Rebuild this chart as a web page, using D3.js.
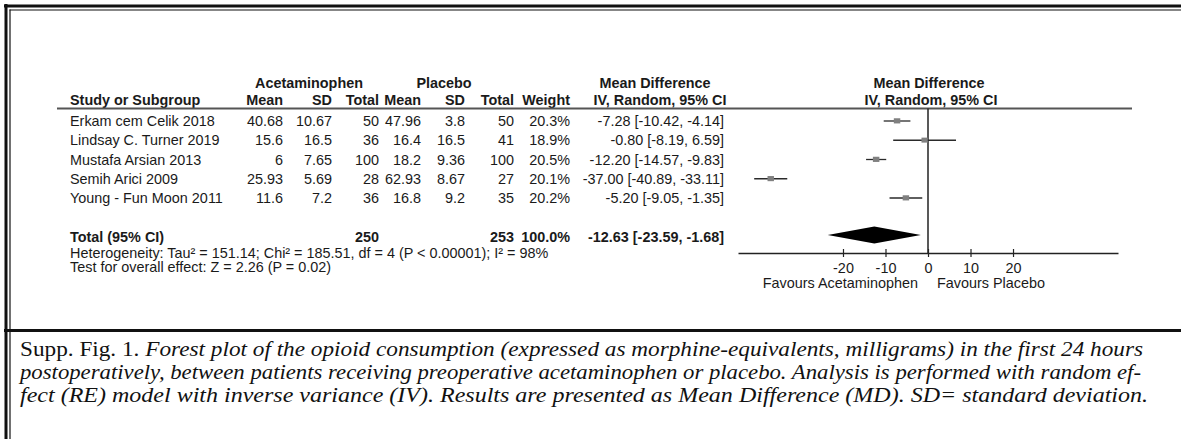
<!DOCTYPE html>
<html><head><meta charset="utf-8">
<script src="https://cdn.jsdelivr.net/npm/d3@7"></script>
<style>body{margin:0;background:#fff} svg{display:block}</style>
</head><body><svg id="c" width="1181" height="439"></svg>
<script>
// ---------- data ----------
const studies = ["Erkam cem Celik 2018", "Lindsay C. Turner 2019", "Mustafa Arsian 2013", "Semih Arici 2009", "Young - Fun Moon 2011"];
const acetMean = [40.68, 15.6, 6, 25.93, 11.6];
const acetSD = [10.67, 16.5, 7.65, 5.69, 7.2];
const acetTotal = [50, 36, 100, 28, 36];
const placMean = [47.96, 16.4, 18.2, 62.93, 16.8];
const placSD = [3.8, 16.5, 9.36, 8.67, 9.2];
const placTotal = [50, 41, 100, 27, 35];
const weights = [20.3, 18.9, 20.5, 20.1, 20.2];
const mdValue = [-7.28, -0.80, -12.20, -37.00, -5.20];
const mdLower = [-10.42, -8.19, -14.57, -40.89, -9.05];
const mdUpper = [-4.14, 6.59, -9.83, -33.11, -1.35];
const totalLabel = "Total (95% CI)";
const totalAcet = 250, totalPlac = 253, totalWeight = 100.0;
const totalMD = -12.63, totalLower = -23.59, totalUpper = -1.68;
const heterogeneity = "Heterogeneity: Tau² = 151.14; Chi² = 185.51, df = 4 (P < 0.00001); I² = 98%";
const overallTest = "Test for overall effect: Z = 2.26 (P = 0.02)";
const axisTicks = [-20, -10, 0, 10, 20];
const axisExtent = [-44.7, 44.7];
const favourLeft = "Favours Acetaminophen", favourRight = "Favours Placebo";
const captionLines = [
  [["Supp. Fig. 1. ", false], ["Forest plot of the opioid consumption (expressed as morphine-equivalents, milligrams) in the first 24 hours", true]],
  [["postoperatively, between patients receiving preoperative acetaminophen or placebo. Analysis is performed with random ef-", true]],
  [["fect (RE) model with inverse variance (IV). Results are presented as Mean Difference (MD). SD= standard deviation.", true]]
];

// ---------- layout ----------
const svg = d3.select("#c");
const SANS = "'Liberation Sans', Arial, Helvetica, sans-serif";
const SERIF = "'Liberation Serif', 'Times New Roman', serif";
const INK = "#1a1a1a";
const FS = 14.4;
svg.append("rect").attr("width", 1181).attr("height", 439).attr("fill", "#fff");

// frame
const fr = svg.append("g").attr("stroke", "#111").attr("fill", "none");
fr.append("line").attr("x1", 4).attr("x2", 1181).attr("y1", 6).attr("y2", 6).attr("stroke-width", 3);
fr.append("line").attr("x1", 6).attr("x2", 6).attr("y1", 4).attr("y2", 439).attr("stroke-width", 3);
fr.append("line").attr("x1", 9.5).attr("x2", 1181).attr("y1", 10).attr("y2", 10).attr("stroke-width", 1.2);
fr.append("line").attr("x1", 10).attr("x2", 10).attr("y1", 9.5).attr("y2", 329).attr("stroke-width", 1.2);
fr.append("line").attr("x1", 4).attr("x2", 1181).attr("y1", 330.5).attr("y2", 330.5).attr("stroke-width", 3);
fr.append("line").attr("x1", 10).attr("x2", 10).attr("y1", 332).attr("y2", 439).attr("stroke-width", 1.2);

const rowY = d3.scaleLinear().domain([0, 1]).range([121, 140.25]);
const x = d3.scaleLinear().domain(axisExtent).range([738, 1118]);
const axisY = 253;
const headY1 = 88, headY2 = 105, ruleY = 108.5;
const base = 5;

const cols = {
  study: 70, aMean: 283, aSD: 332, aTot: 379, pMean: 421, pSD: 465, pTot: 514, weight: 570, md: 724
};

function txt(g, s, xx, yy, anchor, bold, size) {
  return g.append("text").attr("x", xx).attr("y", yy).attr("text-anchor", anchor || "start")
    .style("font-family", SANS).style("font-size", (size || FS) + "px")
    .style("font-weight", bold ? "bold" : "normal").attr("fill", INK).text(s);
}

const T = svg.append("g");
// header
txt(T, "Acetaminophen", 309, headY1, "middle", true);
txt(T, "Placebo", 444, headY1, "middle", true);
txt(T, "Mean Difference", 655, headY1, "middle", true);
txt(T, "Mean Difference", 929, headY1, "middle", true);
txt(T, "Study or Subgroup", cols.study, headY2, "start", true);
txt(T, "Mean", cols.aMean, headY2, "end", true);
txt(T, "SD", cols.aSD, headY2, "end", true);
txt(T, "Total", cols.aTot, headY2, "end", true);
txt(T, "Mean", cols.pMean, headY2, "end", true);
txt(T, "SD", cols.pSD, headY2, "end", true);
txt(T, "Total", cols.pTot, headY2, "end", true);
txt(T, "Weight", cols.weight, headY2, "end", true);
txt(T, "IV, Random, 95% CI", 660, headY2, "middle", true);
txt(T, "IV, Random, 95% CI", 931, headY2, "middle", true);
T.append("line").attr("x1", 57).attr("x2", 1132).attr("y1", ruleY).attr("y2", ruleY)
  .attr("stroke", "#555").attr("stroke-width", 2);

// rows
studies.forEach((s, i) => {
  const yy = rowY(i) + base;
  txt(T, s, cols.study, yy, "start");
  txt(T, acetMean[i], cols.aMean, yy, "end");
  txt(T, acetSD[i], cols.aSD, yy, "end");
  txt(T, acetTotal[i], cols.aTot, yy, "end");
  txt(T, placMean[i], cols.pMean, yy, "end");
  txt(T, placSD[i], cols.pSD, yy, "end");
  txt(T, placTotal[i], cols.pTot, yy, "end");
  txt(T, weights[i].toFixed(1) + "%", cols.weight, yy, "end");
  txt(T, `${mdValue[i].toFixed(2)} [${mdLower[i].toFixed(2)}, ${mdUpper[i].toFixed(2)}]`, cols.md, yy, "end");
});
const ty = rowY(6) + base;
txt(T, totalLabel, cols.study, ty, "start", true);
txt(T, totalAcet, cols.aTot, ty, "end", true);
txt(T, totalPlac, cols.pTot, ty, "end", true);
txt(T, totalWeight.toFixed(1) + "%", cols.weight, ty, "end", true);
txt(T, `${totalMD.toFixed(2)} [${totalLower.toFixed(2)}, ${totalUpper.toFixed(2)}]`, cols.md, ty, "end", true);
txt(T, heterogeneity, cols.study, 258, "start");
txt(T, overallTest, cols.study, 272, "start");

// forest plot
const F = svg.append("g");
F.append("line").attr("x1", x(0)).attr("x2", x(0)).attr("y1", ruleY).attr("y2", axisY)
  .attr("stroke", "#222").attr("stroke-width", 1.5);
const sq = d3.scaleSqrt().domain([0, 20.5]).range([0, 6.5]);
studies.forEach((s, i) => {
  const yy = rowY(i);
  F.append("line").attr("x1", x(mdLower[i])).attr("x2", x(mdUpper[i])).attr("y1", yy).attr("y2", yy)
    .attr("stroke", "#2a2a2a").attr("stroke-width", 1.3);
  const w = sq(weights[i]);
  F.append("rect").attr("x", x(mdValue[i]) - w / 2).attr("y", yy - w / 2 + 0.5).attr("width", w).attr("height", w * 0.8)
    .attr("fill", "#808080");
});
const dy = rowY(6) - 1.5;
F.append("path").attr("d", `M${x(totalLower)},${dy}L${x(totalMD)},${dy - 8.5}L${x(totalUpper)},${dy}L${x(totalMD)},${dy + 8.5}Z`)
  .attr("fill", "#000");

const ag = svg.append("g").attr("transform", `translate(0,${axisY})`)
  .call(d3.axisBottom(x).tickValues(axisTicks).tickFormat(d => String(d)).tickSizeOuter(0).tickSizeInner(4));
ag.select(".domain").attr("stroke", "#222").attr("stroke-width", 1.5);
ag.selectAll(".tick line").attr("y1", -4).attr("y2", 4).attr("stroke", "#222").attr("stroke-width", 1.2);
ag.selectAll(".tick text").attr("y", 20).attr("dy", null).attr("fill", INK)
  .style("font-family", SANS).style("font-size", FS + "px");
ag.attr("font-family", null).attr("font-size", null);
txt(svg, favourLeft, x(0) - 10, axisY + 35, "end");
txt(svg, favourRight, x(0) + 9, axisY + 35, "start");

// caption
const capY = [356, 379, 402];
const capEnd = [1143, 1141, 1148];
captionLines.forEach((parts, k) => {
  const t = svg.append("text").attr("x", 20).attr("y", capY[k])
    .style("font-family", SERIF).style("font-size", "20px").attr("fill", "#111");
  parts.forEach(p => t.append("tspan").text(p[0]).style("font-style", p[1] ? "italic" : "normal"));
  t.attr("textLength", capEnd[k] - 20).attr("lengthAdjust", "spacingAndGlyphs");
});
</script></body></html>
